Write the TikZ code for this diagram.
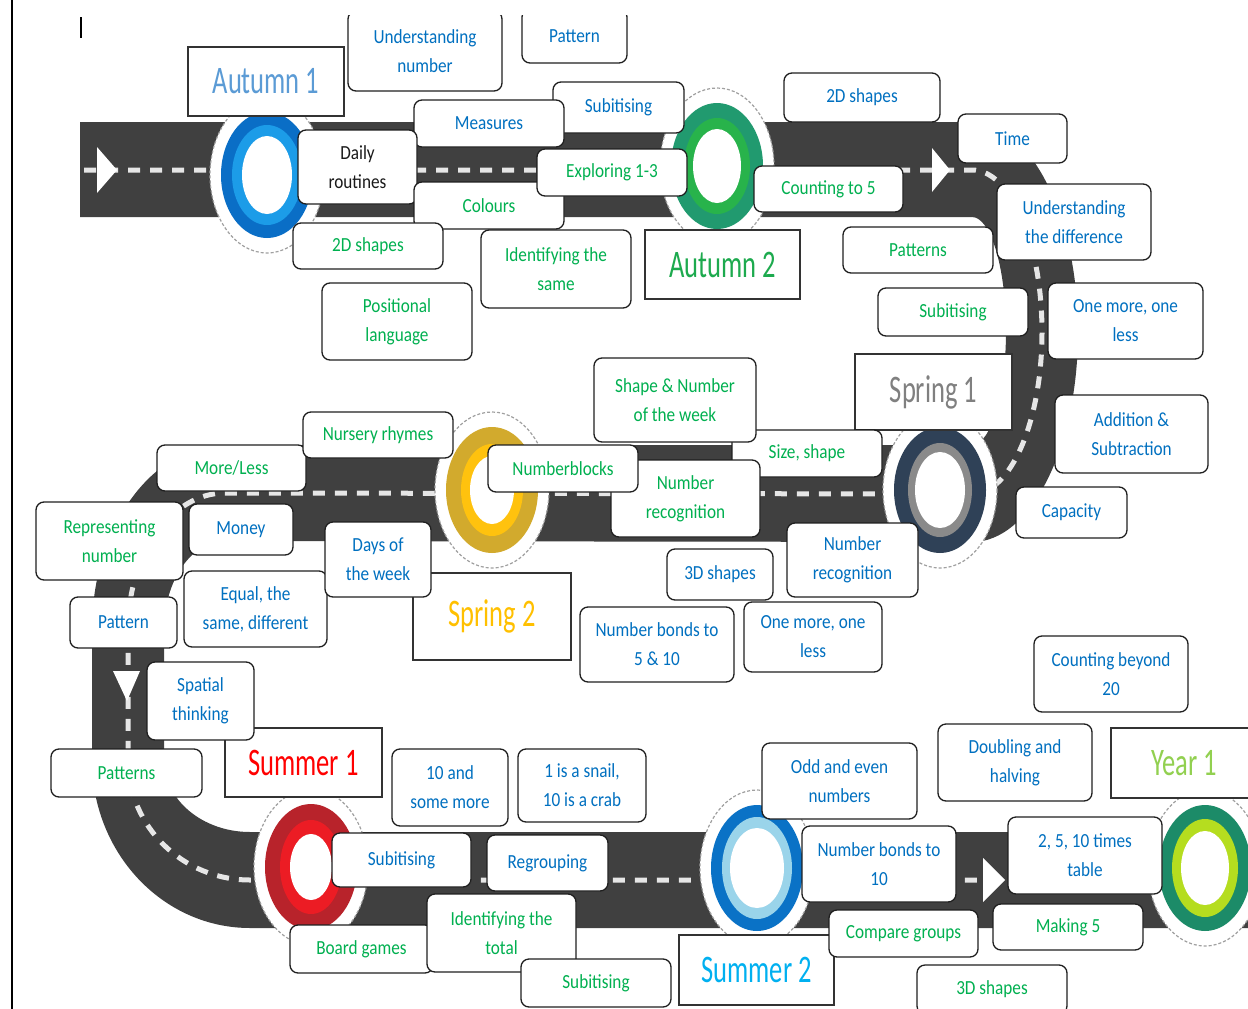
\documentclass[tikz,border=0pt]{standalone}
\usepackage{fontspec}
\setmainfont{Carlito}[FakeStretch=0.86]
\newfontfamily\ttlfont{Carlito}[FakeStretch=0.68]
\definecolor{roadc}{HTML}{404040}
\definecolor{dashc}{HTML}{E6E6E6}
\definecolor{tblue}{HTML}{0070C0}
\definecolor{tgreen}{HTML}{00B050}
\definecolor{tblack}{HTML}{1A1A1A}
\definecolor{labline}{HTML}{1F1F1F}
\definecolor{ttlline}{HTML}{333333}
\definecolor{halogray}{HTML}{A0A0A0}
\definecolor{cAut1}{HTML}{5B9BD5}
\definecolor{cAut2}{HTML}{1DAA4E}
\definecolor{cSpr1}{HTML}{808080}
\definecolor{cSpr2}{HTML}{FFC000}
\definecolor{cSum1}{HTML}{FF0000}
\definecolor{cSum2}{HTML}{00B0F0}
\definecolor{cYr}{HTML}{92D050}
\definecolor{cAAo}{HTML}{0A6EC6}
\definecolor{cAAm}{HTML}{1C9CE8}
\definecolor{cABo}{HTML}{219A6F}
\definecolor{cABm}{HTML}{28B34B}
\definecolor{cSAo}{HTML}{2F4157}
\definecolor{cSAm}{HTML}{8A8A8A}
\definecolor{cSBo}{HTML}{D2AA2D}
\definecolor{cSBm}{HTML}{FFC20E}
\definecolor{cUAo}{HTML}{B8232B}
\definecolor{cUAm}{HTML}{EC1C24}
\definecolor{cUBo}{HTML}{0A72C6}
\definecolor{cUBm}{HTML}{9AD4EA}
\definecolor{cYo}{HTML}{1C8B68}
\definecolor{cYm}{HTML}{B5DD1F}
\tikzset{
  lab/.style={draw=labline, line width=1.3pt, rounded corners=8pt, fill=white,
    inner sep=0pt, align=center, font=\fontsize{20}{29}\selectfont},
  ttl/.style={draw=ttlline, line width=2.2pt, fill=white, inner sep=0pt,
    font=\ttlfont\fontsize{39}{42}\selectfont},
  halo/.style={fill=white, draw=halogray, line width=1.2pt, densely dashed},
  dashline/.style={draw=dashc, line width=5pt, dash pattern=on 12pt off 10pt},
  arrowtip/.style={fill=white},
}
\newcommand\lbl[7]{\node[lab,text=#6,minimum width={(#4-#2)*1pt},minimum height={(#5-#3)*1pt}] (#1) at ({(#2+#4)/2},{(#3+#5)/2}) {#7};}
\newcommand\ttlbox[7]{\node[ttl,text=#6,minimum width={(#4-#2)*1pt},minimum height={(#5-#3)*1pt}] (#1) at ({(#2+#4)/2},{(#3+#5)/2}) {#7};}
\newcommand\mstone[8]{%
  \path[halo] (#1,#2) ellipse [x radius=57, y radius=78];
  \fill[#3] (#1,#2) ellipse [x radius=46, y radius=63];
  \fill[#4] (#1,#2) ellipse [x radius=#5, y radius=#6];
  \fill[white] (#1,#2) ellipse [x radius=#7, y radius=#8];
}
\begin{document}
\begin{tikzpicture}[x=1pt,y=-1pt]
\useasboundingbox (0,0) rectangle (1248,1009);
\clip (0,0) rectangle (1248,1009);
\fill[white] (0,0) rectangle (1248,1009);
% road
\fill[roadc] (80,122) -- (972,122) arc[start angle=-90,end angle=90,x radius=106,y radius=210]
  -- (225,541) arc[start angle=-90,end angle=-180,x radius=61,y radius=89]
  -- (164,760) arc[start angle=180,end angle=90,x radius=86,y radius=72]
  -- (1260,832) -- (1260,928) -- (250,928)
  arc[start angle=90,end angle=180,x radius=158,y radius=168]
  -- (92,630) arc[start angle=180,end angle=270,x radius=133,y radius=185]
  -- (972,445) arc[start angle=90,end angle=-90,x radius=34,y radius=114]
  -- (80,217) -- cycle;
\draw[dashline] (84,170) -- (972,170) arc[start angle=-90,end angle=90,x radius=70,y radius=162]
  -- (225,493) arc[start angle=-90,end angle=-180,x radius=97,y radius=137]
  -- (128,760) arc[start angle=180,end angle=90,x radius=122,y radius=120] -- (1260,880);
% arrow tips
\fill[arrowtip] (97,147) -- (117,170) -- (97,193) -- cycle;
\fill[arrowtip] (932,148) -- (950,170) -- (932,192) -- cycle;
\fill[arrowtip] (113,671) -- (140,671) -- (127,701) -- cycle;
\fill[arrowtip] (983,858) -- (1005,880) -- (983,902) -- cycle;
% milestones
\mstone{267}{175}{cAAo}{cAAm}{35}{50}{25}{39}
\mstone{717}{166}{cABo}{cABm}{33}{48}{24}{37}
\mstone{940}{490}{cSAo}{cSAm}{32}{47}{25}{38}
\mstone{492}{490}{cSBo}{cSBm}{31}{46}{22}{34}
\mstone{311}{867}{cUAo}{cUAm}{31}{47}{21}{33}
\mstone{757}{868}{cUBo}{cUBm}{35}{51}{27}{40}
\mstone{1205}{868}{cYo}{cYm}{33}{49}{24}{37}
% frame line and cursor
\draw[line width=2.5pt] (12,0) -- (12,1009);
\draw[line width=1.5pt] (81,17) -- (81,38);
% titles
\ttlbox{autA}{188}{47}{344}{116}{cAut1}{Autumn 1}
\ttlbox{autB}{645}{230}{800}{299}{cAut2}{Autumn 2}
\ttlbox{sprA}{855}{354}{1012}{430}{cSpr1}{Spring 1}
\ttlbox{sprB}{413}{573}{571}{660}{cSpr2}{Spring 2}
\ttlbox{sumA}{225}{728}{382}{797}{cSum1}{Summer 1}
\ttlbox{sumB}{679}{935}{834}{1005}{cSum2}{Summer 2}
\ttlbox{yr}{1111}{728}{1258}{798}{cYr}{Year 1}
% labels
\begin{scope}
\clip (0,15) rectangle (1248,1009);
\lbl{undnum}{348}{11}{502}{91}{tblue}{Understanding\\number}
\lbl{pattA}{522}{9}{627}{63}{tblue}{Pattern}
\end{scope}
\lbl{subA}{553}{82}{684}{133}{tblue}{Subitising}
\lbl{meas}{414}{100}{564}{147}{tblue}{Measures}
\lbl{daily}{298}{130}{417}{204}{tblack}{Daily\\routines}
\lbl{colours}{414}{182}{564}{229}{tgreen}{Colours}
\lbl{expl}{537}{149}{687}{196}{tgreen}{Exploring 1-3}
\lbl{twodA}{293}{223}{443}{269}{tgreen}{2D shapes}
\lbl{idsame}{481}{230}{631}{308}{tgreen}{Identifying the\\same}
\lbl{posl}{322}{283}{472}{360}{tgreen}{Positional\\language}
\lbl{twodB}{784}{73}{940}{122}{tblue}{2D shapes}
\lbl{time}{958}{114}{1067}{163}{tblue}{Time}
\lbl{cnt5}{754}{166}{903}{212}{tgreen}{Counting to 5}
\lbl{pattsA}{843}{227}{993}{273}{tgreen}{Patterns}
\lbl{undiff}{997}{184}{1151}{260}{tblue}{Understanding\\the difference}
\lbl{subB}{878}{288}{1028}{336}{tgreen}{Subitising}
\lbl{omolA}{1048}{283}{1203}{359}{tblue}{One more, one\\less}
\lbl{addsub}{1055}{395}{1208}{473}{tblue}{Addition \&\\Subtraction}
\lbl{capac}{1016}{487}{1127}{538}{tblue}{Capacity}
\lbl{sizesh}{732}{430}{882}{477}{tgreen}{Size, shape}
\lbl{shnum}{594}{358}{756}{442}{tgreen}{Shape \& Number\\of the week}
\lbl{numrecA}{611}{460}{760}{537}{tgreen}{Number\\recognition}
\lbl{nblocks}{488}{445}{638}{492}{tgreen}{Numberblocks}
\lbl{moreless}{157}{445}{306}{491}{tgreen}{More/Less}
\lbl{nursery}{303}{412}{453}{458}{tgreen}{Nursery rhymes}
\lbl{repnum}{36}{502}{183}{580}{tgreen}{Representing\\number}
\lbl{money}{189}{504}{293}{555}{tblue}{Money}
\lbl{equal}{184}{571}{327}{647}{tblue}{Equal, the\\same, different}
\lbl{days}{325}{522}{431}{597}{tblue}{Days of\\the week}
\lbl{pattB}{70}{597}{177}{648}{tblue}{Pattern}
\lbl{threedA}{667}{549}{773}{600}{tblue}{3D shapes}
\lbl{numrecB}{787}{523}{918}{597}{tblue}{Number\\recognition}
\lbl{bonds}{580}{607}{734}{682}{tblue}{Number bonds to\\5 \& 10}
\lbl{omolB}{744}{602}{882}{672}{tblue}{One more, one\\less}
\lbl{spatial}{147}{662}{254}{740}{tblue}{Spatial\\thinking}
\lbl{pattsB}{51}{749}{202}{797}{tgreen}{Patterns}
\lbl{tenmore}{392}{749}{508}{826}{tblue}{10 and\\some more}
\lbl{snail}{518}{749}{646}{822}{tblue}{1 is a snail,\\10 is a crab}
\lbl{subC}{332}{833}{471}{887}{tblue}{Subitising}
\lbl{regroup}{487}{835}{608}{891}{tblue}{Regrouping}
\lbl{board}{290}{925}{433}{973}{tgreen}{Board games}
\lbl{idtotal}{427}{894}{576}{972}{tgreen}{Identifying the\\total}
\lbl{subD}{521}{959}{671}{1007}{tgreen}{Subitising}
\lbl{oddeven}{762}{743}{917}{819}{tblue}{Odd and even\\numbers}
\lbl{bonds10}{802}{826}{956}{902}{tblue}{Number bonds to\\10}
\lbl{compare}{829}{910}{978}{957}{tgreen}{Compare groups}
\lbl{threedB}{917}{965}{1067}{1014}{tgreen}{3D shapes}
\lbl{doubling}{938}{724}{1092}{801}{tblue}{Doubling and\\halving}
\lbl{times}{1008}{817}{1162}{894}{tblue}{2, 5, 10 times\\table}
\lbl{making}{993}{904}{1143}{950}{tgreen}{Making 5}
\lbl{beyond}{1034}{636}{1188}{712}{tblue}{Counting beyond\\20}
\end{tikzpicture}
\end{document}
